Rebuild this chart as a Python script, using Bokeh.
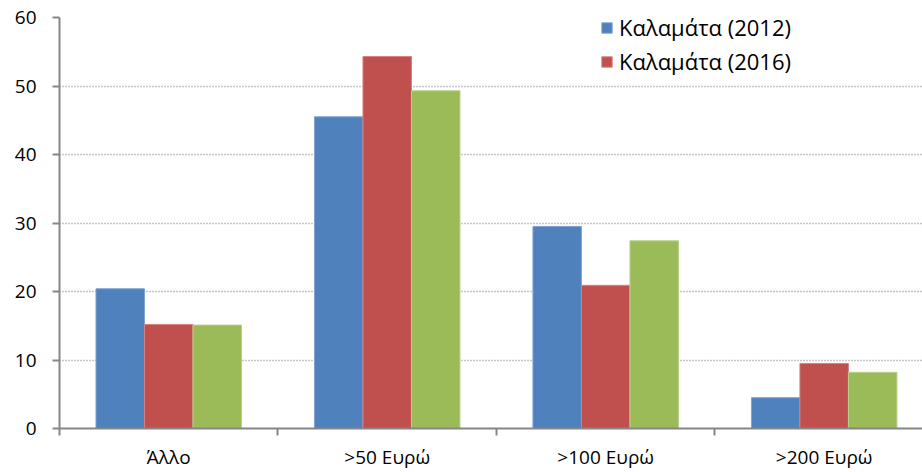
from bokeh.plotting import figure
from bokeh.models import ColumnDataSource, FixedTicker, Range1d, Legend, LegendItem
from bokeh.embed import file_html
from bokeh.resources import INLINE

categories = ["Άλλο", ">50 Ευρώ", ">100 Ευρώ", ">200 Ευρώ"]
series_names = ["Καλαμάτα (2012)", "Καλαμάτα (2016)", "Σειρά 3"]
values_2012 = [20.4, 45.5, 29.5, 4.5]
values_2016 = [15.2, 54.3, 20.9, 9.5]
values_3 = [15.1, 49.3, 27.4, 8.2]
y_ticks = [0, 10, 20, 30, 40, 50, 60]

colors = ["#4F81BD", "#C0504D", "#9BBB59"]
edge = ["#7FA3D0", "#D8817F", "#B9D08A"]

FONT = "Open Sans"

p = figure(width=922, height=472, output_backend="svg", toolbar_location=None,
           x_range=Range1d(0, 3.95), y_range=Range1d(0, 60),
           min_border_left=59, min_border_right=0, min_border_top=17, min_border_bottom=44)
p.outline_line_color = None
p.background_fill_color = "white"
p.border_fill_color = "white"

centers = [i + 0.5 for i in range(len(categories))]
bw = 0.222
offsets = [-bw, 0.0, bw]
renderers = []
for k, vals in enumerate([values_2012, values_2016, values_3]):
    src = ColumnDataSource(dict(x=[c + offsets[k] for c in centers], top=vals))
    r = p.vbar(x="x", top="top", width=bw, bottom=0, source=src,
               fill_color=colors[k], line_color=edge[k], line_width=1)
    renderers.append(r)

# axes
p.xaxis.ticker = FixedTicker(ticks=centers, minor_ticks=[0, 1, 2, 3])
p.xaxis.major_label_overrides = {c: lab for c, lab in zip(centers, categories)}
p.xaxis.major_tick_line_color = None
p.xaxis.major_tick_out = 0
p.xaxis.major_tick_in = 0
p.xaxis.minor_tick_out = 7
p.xaxis.minor_tick_in = 0
p.xaxis.minor_tick_line_color = "#868686"
p.xaxis.minor_tick_line_width = 2
p.xaxis.axis_line_color = "#868686"
p.xaxis.axis_line_width = 2
p.xaxis.major_label_text_font = FONT
p.xaxis.major_label_text_font_size = "19px"
p.xaxis.major_label_text_color = "black"
p.xaxis.major_label_standoff = 8

p.yaxis.ticker = FixedTicker(ticks=y_ticks)
p.yaxis.minor_tick_line_color = None
p.yaxis.major_tick_out = 7
p.yaxis.major_tick_in = 0
p.yaxis.major_tick_line_color = "#868686"
p.yaxis.major_tick_line_width = 2
p.yaxis.axis_line_color = "#868686"
p.yaxis.axis_line_width = 2
p.yaxis.major_label_text_font = FONT
p.yaxis.major_label_text_font_size = "19px"
p.yaxis.major_label_text_color = "black"
p.yaxis.major_label_standoff = 16

p.xgrid.grid_line_color = None
p.ygrid.ticker = FixedTicker(ticks=y_ticks[1:])
p.ygrid.grid_line_color = "#8c8c8c"
p.ygrid.grid_line_dash = "1 2"
p.ygrid.grid_line_width = 1.5

legend = Legend(items=[LegendItem(label=series_names[0], renderers=[renderers[0]]),
                       LegendItem(label=series_names[1], renderers=[renderers[1]])],
                location=(541, 352), orientation="vertical")
legend.padding = 0
legend.margin = 0
legend.border_line_color = None
legend.background_fill_alpha = 0
legend.glyph_width = 13
legend.glyph_height = 13
legend.label_height = 22
legend.spacing = 4
legend.label_standoff = 6
legend.label_text_font = FONT
legend.label_text_font_size = "22px"
legend.label_text_color = "black"
p.add_layout(legend, "center")

open("out.html", "w").write(file_html(p, INLINE))
